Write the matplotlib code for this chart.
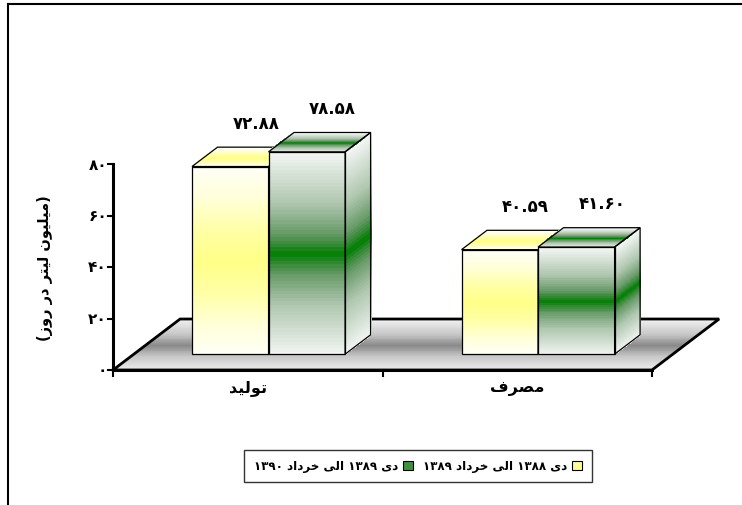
import numpy as np
import matplotlib
matplotlib.use('Agg')
import matplotlib.pyplot as plt
from matplotlib.collections import PolyCollection
from matplotlib.colors import LinearSegmentedColormap
from matplotlib.patches import Patch, Polygon
from matplotlib.lines import Line2D

plt.rcParams['font.family'] = ['DejaVu Sans']

# --- data ---
categories = ['تولید', 'مصرف']
series_names = ['دی ۱۳۸۸ الی خرداد ۱۳۸۹', 'دی ۱۳۸۹ الی خرداد ۱۳۹۰']
values_1 = [72.88, 40.59]
values_2 = [78.58, 41.60]
y_ticks = [0, 20, 40, 60, 80]
y_label = '(میلیون لیتر در روز)'

# --- simple persian shaping (no bidi library available) ---
FORMS = {
    'ا': ('\uFE8D', '\uFE8E', None, None),
    'ت': ('\uFE95', '\uFE96', '\uFE97', '\uFE98'),
    'خ': ('\uFEA5', '\uFEA6', '\uFEA7', '\uFEA8'),
    'د': ('\uFEA9', '\uFEAA', None, None),
    'ر': ('\uFEAD', '\uFEAE', None, None),
    'ز': ('\uFEAF', '\uFEB0', None, None),
    'ص': ('\uFEB9', '\uFEBA', '\uFEBB', '\uFEBC'),
    'ف': ('\uFED1', '\uFED2', '\uFED3', '\uFED4'),
    'ل': ('\uFEDD', '\uFEDE', '\uFEDF', '\uFEE0'),
    'م': ('\uFEE1', '\uFEE2', '\uFEE3', '\uFEE4'),
    'ن': ('\uFEE5', '\uFEE6', '\uFEE7', '\uFEE8'),
    'و': ('\uFEED', '\uFEEE', None, None),
    'ی': ('\uFEEF', '\uFEF0', '\uFEF3', '\uFEF4'),
}
MIRROR = {'(': ')', ')': '('}


def shape_word(word):
    if not any(ch in FORMS for ch in word):
        return word
    out = []
    for i, ch in enumerate(word):
        if ch not in FORMS:
            out.append(MIRROR.get(ch, ch))
            continue
        iso, fin, ini, med = FORMS[ch]
        prev = word[i - 1] if i > 0 else ''
        nxt = word[i + 1] if i < len(word) - 1 else ''
        join_prev = prev in FORMS and FORMS[prev][2] is not None
        join_next = nxt in FORMS and ini is not None
        if join_prev and join_next:
            out.append(med)
        elif join_prev:
            out.append(fin)
        elif join_next:
            out.append(ini)
        else:
            out.append(iso)
    return ''.join(out[::-1])


def rtl(text):
    return ' '.join(shape_word(w) for w in reversed(text.split(' ')))


def fa_num(s):
    return ''.join(chr(0x06F0 + int(c)) if c.isdigit() else c for c in s)


# --- fake 3d geometry (data units) ---
DX, DY = 0.249, 19.8      # full floor depth
D_FRONT, D_BACK = 0.31, 0.69
GAP, W = 0.216, 0.284

yellow_cm = LinearSegmentedColormap.from_list('y', ['#fffff6', '#ffffd8', '#ffffa6', '#ffff88'])
green_cm = LinearSegmentedColormap.from_list(
    'g', [(0, '#f3f6f3'), (0.5, '#afc6af'), (0.8, '#679a67'), (0.93, '#2a862a'), (1.0, '#008000')])
floor_cm = LinearSegmentedColormap.from_list('f', [(0, '#f0f0f0'), (0.6, '#c4c4c4'), (1, '#888888')])


def P(x, v, d):
    return np.array([x + d * DX, v + d * DY])


def face(ax, origin, a, b, cmap, n=60, lw=0.9, zorder=3):
    polys, cols = [], []
    for i in range(n):
        t0, t1 = i / n, (i + 1) / n
        p0, p1 = origin + a * t0, origin + a * t1
        polys.append([p0, p1, p1 + b, p0 + b])
        cols.append(cmap(1 - abs(2 * (t0 + t1) / 2 - 1)))
    ax.add_collection(PolyCollection(polys, facecolors=cols, edgecolors=cols,
                                     linewidths=0.6, antialiaseds=False, zorder=zorder))
    ax.add_patch(Polygon([origin, origin + a, origin + a + b, origin + b], closed=True,
                         fill=False, edgecolor='black', lw=lw, zorder=zorder + 0.1))


fig = plt.figure(figsize=(7.42, 5.06), dpi=100)
ax = fig.add_axes([0, 0, 1, 1])
px_x, px_y = 269.5, 2.575
ax.set_xlim(-113 / px_x, (742 - 113) / px_x)
ax.set_ylim(-(506 - 371) / px_y, 371 / px_y)
ax.axis('off')

# floor
n_cat = len(categories)
depth = np.array([DX, DY])
face(ax, P(0, 0, 0), depth, np.array([n_cat, 0]), floor_cm, lw=2.0, zorder=1)
ax.plot([0, n_cat], [0, 0], color='black', lw=2.2, zorder=2)

# bars
for i in range(n_cat):
    for s, (vals, cm) in enumerate([(values_1, yellow_cm), (values_2, green_cm)]):
        v = vals[i]
        x0 = i + GAP + s * W
        dvec = depth * (D_BACK - D_FRONT)
        face(ax, P(x0 + W, 0, D_FRONT), np.array([0, v]), dvec, cm, zorder=3 + i + s * 0.3)
        face(ax, P(x0, 0, D_FRONT), np.array([0, v]), np.array([W, 0]), cm, zorder=3 + i + s * 0.3)
        face(ax, P(x0, v, D_FRONT), dvec, np.array([W, 0]), cm, zorder=3 + i + s * 0.3)
        top = P(x0 + W / 2, v, D_BACK)
        ax.annotate(fa_num(f'{v:.2f}'), top, xytext=(0, 11), textcoords='offset points',
                    ha='center', va='bottom', fontsize=12, fontweight='bold', zorder=10)

# value axis
tick_len = 5 / px_x
ax.plot([0, 0], [0, y_ticks[-1]], color='black', lw=2.2, zorder=2)
for t in y_ticks:
    ax.plot([-tick_len, 0], [t, t], color='black', lw=1.5, zorder=2)
    ax.text(-tick_len - 1 / px_x, t, fa_num(str(t)), ha='right', va='center',
            fontsize=11, fontweight='bold')

# category axis ticks and labels
for i in range(n_cat + 1):
    ax.plot([i, i], [0, -6 / px_y], color='black', lw=1.5, zorder=2)
for i, c in enumerate(categories):
    ax.text(i + 0.5, -17 / px_y, rtl(c), ha='center', va='center',
            fontsize=11.5, fontweight='bold')

fig.text(45 / 742, 1 - 268 / 506, rtl(y_label), rotation=90, ha='center', va='center',
         fontsize=10.5, fontweight='bold')

# frame lines
fig.add_artist(Line2D([8 / 742, 1], [1 - 5 / 506] * 2, color='black', lw=1.5))
fig.add_artist(Line2D([8 / 742] * 2, [0, 1 - 5 / 506], color='black', lw=1.5))

# legend
handles = [Patch(facecolor='#3f903f', edgecolor='black', lw=0.8),
           Patch(facecolor='#ffff99', edgecolor='black', lw=0.8)]
labels = [rtl(series_names[1]), rtl(series_names[0])]
leg = fig.legend(handles, labels, loc='center', bbox_to_anchor=(418 / 742, 1 - 467 / 506),
                 ncol=2, markerfirst=False, fancybox=False, edgecolor='black',
                 prop={'weight': 'bold', 'size': 8.6}, handlelength=0.8, handleheight=0.8,
                 handletextpad=0.4, columnspacing=0.9, borderpad=0.8)
leg.get_frame().set_linewidth(1.0)

fig.savefig('out.png', dpi=100)
